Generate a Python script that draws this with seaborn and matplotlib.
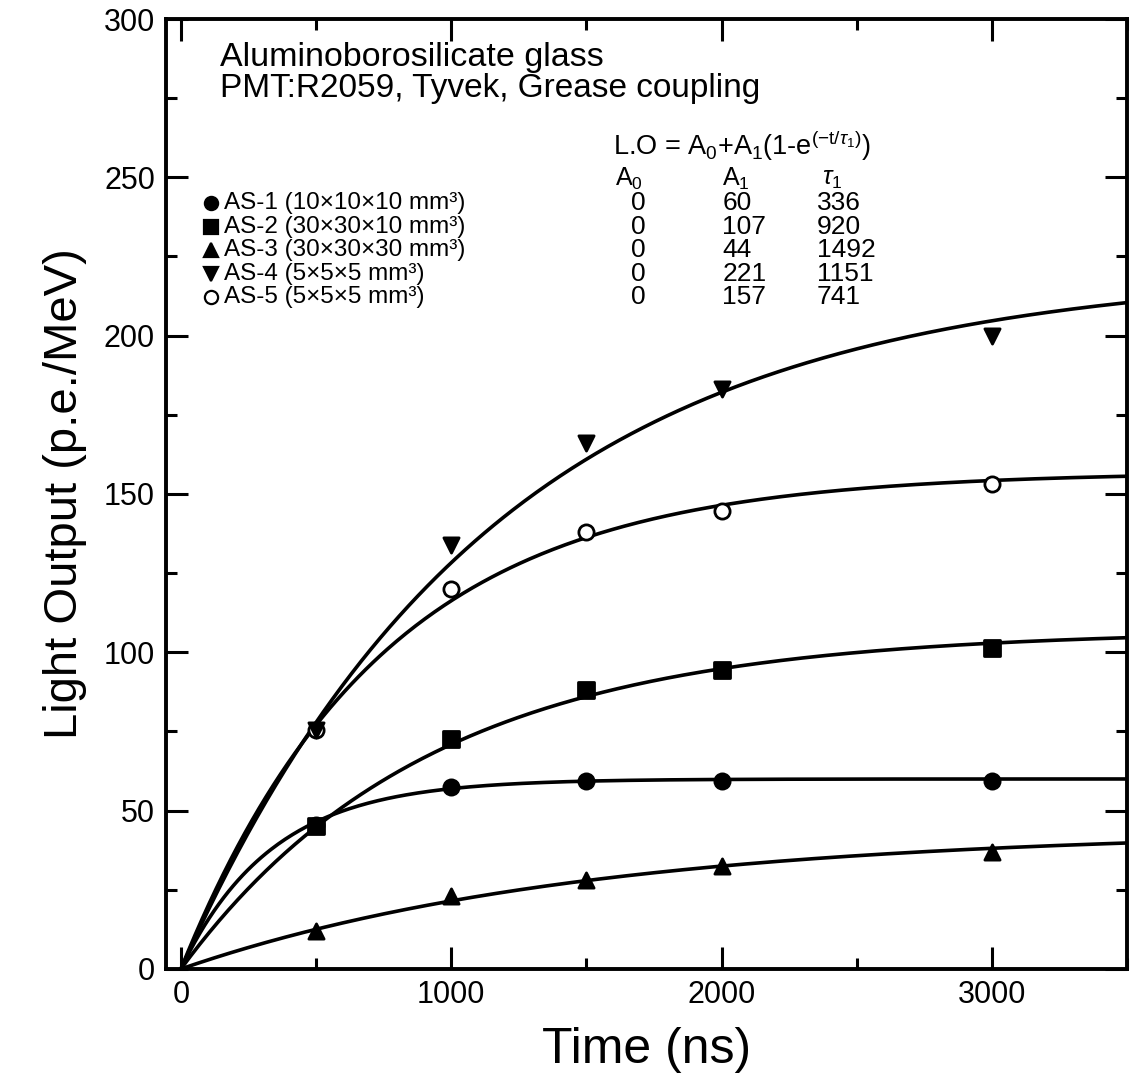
import numpy as np
import pandas as pd
import matplotlib
matplotlib.use("Agg")
import matplotlib.pyplot as plt
from matplotlib.ticker import MultipleLocator
import seaborn as sns

# Measured light output (p.e./MeV) versus integration time (ns)
time_ns = [500, 1000, 1500, 2000, 3000]
as1 = [45.5, 57.5, 59.5, 59.5, 59.5]
as2 = [45.0, 72.5, 88.0, 94.5, 101.5]
as3 = [12.0, 23.0, 28.0, 32.5, 37.0]
as4 = [75.5, 134.0, 166.0, 183.0, 200.0]
as5 = [75.5, 120.0, 138.0, 144.5, 153.0]

samples = ["AS-1", "AS-2", "AS-3", "AS-4", "AS-5"]
sizes = ["10×10×10", "30×30×10", "30×30×30", "5×5×5", "5×5×5"]
fit_a0 = [0, 0, 0, 0, 0]
fit_a1 = [60, 107, 44, 221, 157]
fit_tau = [336, 920, 1492, 1151, 741]

series = [as1, as2, as3, as4, as5]
markers = ["o", "s", "^", "v", "o"]
filled = [True, True, True, True, False]
draw_order = [0, 1, 2, 4, 3]

sns.set_theme(style="ticks")
plt.rcParams["font.family"] = ["Liberation Sans", "DejaVu Sans"]
plt.rcParams["mathtext.fontset"] = "custom"
plt.rcParams["mathtext.rm"] = "Liberation Sans"
plt.rcParams["mathtext.it"] = "Liberation Sans:italic"
plt.rcParams["text.color"] = "black"
plt.rcParams["axes.labelcolor"] = "black"
plt.rcParams["xtick.color"] = "black"
plt.rcParams["ytick.color"] = "black"

fig = plt.figure(figsize=(11.42, 10.74), dpi=100)
ax = fig.add_axes([0.1454, 0.0978, 0.8415, 0.8845])

# fitted curves L.O = A0 + A1 (1 - exp(-t/tau1))
t_fit = np.linspace(0, 3500, 400)
for a0, a1, tau in zip(fit_a0, fit_a1, fit_tau):
    fit_df = pd.DataFrame({"t": t_fit, "lo": a0 + a1 * (1 - np.exp(-t_fit / tau))})
    sns.lineplot(data=fit_df, x="t", y="lo", ax=ax, color="black", lw=2.6, zorder=2)

# measured points
for k, i in enumerate(draw_order):
    pts = pd.DataFrame({"t": time_ns, "lo": series[i]})
    sns.scatterplot(data=pts, x="t", y="lo", ax=ax, marker=markers[i], s=120,
                    facecolor="black" if filled[i] else "white", edgecolor="black",
                    linewidth=2.0, zorder=3 + k)

ax.set_xlim(-55, 3500)
ax.set_ylim(0, 300)
ax.xaxis.set_major_locator(MultipleLocator(1000))
ax.xaxis.set_minor_locator(MultipleLocator(500))
ax.yaxis.set_major_locator(MultipleLocator(50))
ax.yaxis.set_minor_locator(MultipleLocator(25))
ax.tick_params(which="both", direction="in", top=True, right=True,
               width=2.2, labelsize=22, color="black", labelcolor="black")
ax.tick_params(which="major", length=16, pad=8)
ax.tick_params(which="minor", length=8)
for sp in ax.spines.values():
    sp.set_linewidth(2.8)
    sp.set_color("black")

ax.set_xlabel("Time (ns)", fontsize=36, labelpad=12)
ax.set_ylabel("Light Output (p.e./MeV)", fontsize=34, labelpad=12)

# annotation block
tk = dict(transform=ax.transAxes, color="black", va="center")
ax.text(0.056, 0.959, "Aluminoborosilicate glass", fontsize=24.5, **tk)
ax.text(0.056, 0.927, "PMT:R2059, Tyvek, Grease coupling", fontsize=24, **tk)
ax.text(0.465, 0.867, r"L.O = A$_0$+A$_1$(1-e$^{(\mathrm{-t/}\tau_1)}$)",
        fontsize=19.5, **tk)
ax.text(0.467, 0.832, r"A$_0$", fontsize=18, **tk)
ax.text(0.578, 0.832, r"A$_1$", fontsize=18, **tk)
ax.text(0.683, 0.832, r"$\tau_1$", fontsize=18, **tk)

row_y = [0.806, 0.781, 0.757, 0.732, 0.707]
for yy, name, sz, a0, a1, tau, m, f in zip(row_y, samples, sizes, fit_a0, fit_a1,
                                          fit_tau, markers, filled):
    ax.plot([0.047], [yy], transform=ax.transAxes, marker=m, ms=9.5,
            mfc="black" if f else "white", mec="black", mew=1.6, ls="none")
    ax.text(0.0604, yy, f"{name} ({sz} mm³)", fontsize=17.5, **tk)
    ax.text(0.484, yy, f"{a0}", fontsize=19, **tk)
    ax.text(0.579, yy, f"{a1}", fontsize=19, **tk)
    ax.text(0.677, yy, f"{tau}", fontsize=19, **tk)

fig.savefig("out.png", dpi=100)
